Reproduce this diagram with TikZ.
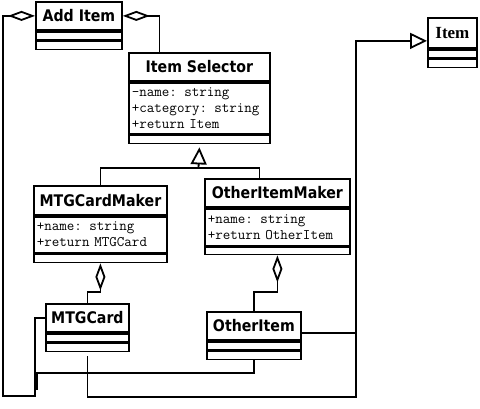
\documentclass[tikz,border=0pt]{standalone}
\usepackage{fontspec}
\usepackage{tikz}
\usetikzlibrary{positioning,arrows.meta}
\newfontfamily\hfont{DejaVu Sans}[FakeStretch=0.885]
\newfontfamily\sfont{Liberation Serif}

\begin{document}
\begin{tikzpicture}[x=1pt, y=-1pt,
  head/.style={draw, line width=1.8pt, inner sep=0pt, anchor=north west,
    font=\hfont\bfseries\fontsize{16}{18}\selectfont},
  attr/.style={draw, line width=1.8pt, inner xsep=3pt, inner ysep=0pt, align=left,
    font=\ttfamily\fontsize{14.6}{16}\selectfont},
  comp/.style={draw, line width=1.8pt, inner sep=0pt, minimum height=8pt},
  link/.style={line width=1.8pt},
  agg/.style={{Diamond[open, length=27pt, width=10pt]}-},
  gen/.style={-{Triangle[open, length=17pt, width=16pt]}}]
\useasboundingbox (0,0) rectangle (480,409);

% Add Item
\node[head, minimum width=86pt, minimum height=28pt] (addH) at (35,1) {Add Item};
\node[comp, minimum width=86pt, below=0pt of addH] (addA) {};
\node[comp, minimum width=86pt, below=0pt of addA] (addM) {};

% Item Selector
\node[head, minimum width=141pt, minimum height=28pt] (selH) at (128,52) {Item Selector};
\node[attr, text width=135pt, minimum height=51pt, below=0pt of selH] (selA)
  {-name: string\\+category: string\\+return Item};
\node[comp, minimum width=141pt, below=0pt of selA] (selM) {};

% Item
\node[head, font=\sfont\bfseries\fontsize{17}{19}\selectfont,
  minimum width=49pt, minimum height=30pt] (itemH) at (427,17) {Item};
\node[comp, minimum width=49pt, below=0pt of itemH] (itemA) {};
\node[comp, minimum width=49pt, below=0pt of itemA] (itemM) {};

% MTGCardMaker
\node[head, minimum width=133pt, minimum height=29pt] (mkH) at (33,185) {MTGCardMaker};
\node[attr, text width=127pt, minimum height=36pt, below=0pt of mkH] (mkA)
  {+name: string\\+return MTGCard};
\node[comp, minimum width=133pt, below=0pt of mkA] (mkM) {};

% OtherItemMaker
\node[head, minimum width=145pt, minimum height=28pt] (oimH) at (204,178) {OtherItemMaker};
\node[attr, text width=139pt, minimum height=37pt, below=0pt of oimH] (oimA)
  {+name: string\\+return OtherItem};
\node[comp, minimum width=145pt, minimum height=7pt, below=0pt of oimA] (oimM) {};

% MTGCard
\node[head, minimum width=83pt, minimum height=28pt] (mtgH) at (45,303) {MTGCard};
\node[comp, minimum width=83pt, below=0pt of mtgH] (mtgA) {};
\node[comp, minimum width=83pt, below=0pt of mtgA] (mtgM) {};

% OtherItem
\node[head, minimum width=94pt, minimum height=28pt] (oiH) at (206,311) {OtherItem};
\node[comp, minimum width=94pt, below=0pt of oiH] (oiA) {};
\node[comp, minimum width=94pt, below=0pt of oiA] (oiM) {};

% Add Item aggregations
\coordinate (lowL) at (3,396);
\coordinate (lowR) at (35,396);
\draw[link, agg] (addH.west) -| (lowL) -- (lowR) |- (mtgH.west);
\draw[link, agg] (addH.east) -| ([xshift=-40pt]selH.north);

% Makers generalize Item Selector
\coordinate (fork) at (198.5,168);
\draw[link] (mkH.north) |- (fork);
\draw[link] ([xshift=-18pt]oimH.north) |- (fork);
\draw[link, gen] (fork) -- ([yshift=-3pt]selM.south);

% Makers aggregate their items
\draw[link, agg] (mkM.south) -- ++(0,29) -| (mtgH.north);
\draw[link, agg] (oimM.south) -- ++(0,37) -| (oiH.north);

% Items generalize Item
\coordinate (rail) at (356,397);
\draw[link, gen] ([yshift=-4pt]mtgM.south) |- (rail) |- ([yshift=-8pt]itemH.west);
\coordinate (oiR) at ([yshift=-7pt]oiH.east);
\draw[link] (oiR) -- (oiR -| rail);

% OtherItem to bottom left
\coordinate (lowM) at (37,373);
\draw[link] (oiM.south) |- (lowM) -- ++(0,17);

\end{tikzpicture}
\end{document}
